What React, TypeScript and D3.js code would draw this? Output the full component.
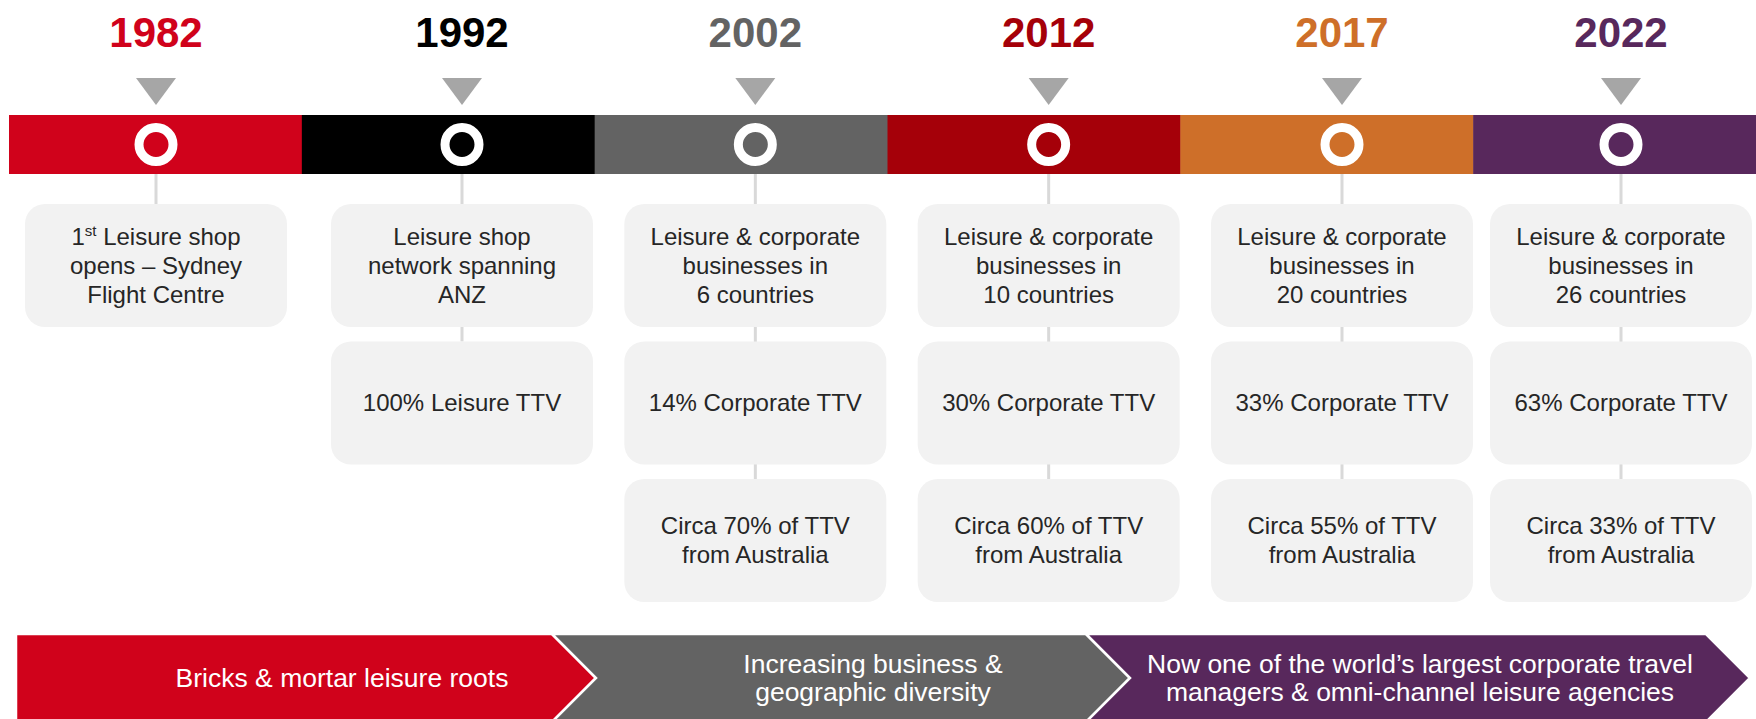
import React from "react";
import * as d3 from "d3";

// milestone years along the timeline
const years = ["1982", "1992", "2002", "2012", "2017", "2022"];
const yearColors = ["#d0021b", "#000000", "#636363", "#a50009", "#ce6f29", "#58285c"];

// first box text for the early years (no country count yet)
const earlyMilestones = [
  ["1st Leisure shop", "opens – Sydney", "Flight Centre"],
  ["Leisure shop", "network spanning", "ANZ"],
];
const countries = [null, null, 6, 10, 20, 26];
const corporateTtv = [null, 0, 14, 30, 33, 63];
const australiaTtv = [null, null, 70, 60, 55, 33];

// bottom chevrons
const phaseLabels = [
  ["Bricks & mortar leisure roots"],
  ["Increasing business &", "geographic diversity"],
  ["Now one of the world’s largest corporate travel", "managers & omni-channel leisure agencies"],
];
const phaseColors = ["#d0021b", "#636363", "#58285c"];

const W = 1756;
const H = 719;
const FONT = "'Liberation Sans', Arial, Helvetica, sans-serif";

function boxLines(i: number): string[][] {
  const rows: string[][] = [];
  if (countries[i] == null) rows.push(earlyMilestones[i]);
  else rows.push(["Leisure & corporate", "businesses in", `${countries[i]} countries`]);
  if (corporateTtv[i] != null) {
    rows.push([corporateTtv[i] === 0 ? "100% Leisure TTV" : `${corporateTtv[i]}% Corporate TTV`]);
  }
  if (australiaTtv[i] != null) {
    rows.push([`Circa ${australiaTtv[i]}% of TTV`, "from Australia"]);
  }
  return rows;
}

// renders "1st ..." with a superscript ordinal
function Line({ text, x, y }: { text: string; x: number; y: number }) {
  const m = text.match(/^(\d+)(st|nd|rd|th)(\s.*)$/);
  if (!m) {
    return (
      <text x={x} y={y} textAnchor="middle">
        {text}
      </text>
    );
  }
  return (
    <text x={x} y={y} textAnchor="middle">
      <tspan>{m[1]}</tspan>
      <tspan dy={-9} fontSize={15}>{m[2]}</tspan>
      <tspan dy={9}>{m[3]}</tspan>
    </text>
  );
}

export default function App() {
  // coloured band segments (last one runs off the right edge)
  const band = d3.scaleBand<string>().domain(years).range([9, 1766]);
  // column centres (markers and boxes)
  const colX = d3.scaleLinear().domain([0, 1, 4, 5]).range([156, 462, 1342, 1621]);

  const bandTop = 115;
  const bandH = 59;
  const circleY = bandTop + bandH / 2;
  const boxW = 262;
  const boxH = 123;
  const rowY = d3.scaleLinear().domain([0, 1]).range([204, 341.5]);
  const lineGap = 29;

  const tri = d3.line();

  // chevron row layout
  const chevTop = 634;
  const chevDepth = 44;
  const chevStops = [16, 552, 1086, 1706];
  const chevLabelX = [342, 873, 1420];
  const chevMid = chevTop + chevDepth;

  return (
    <div style={{ position: "fixed", left: 0, top: 0 }}>
      <svg width={W} height={H} style={{ display: "block", fontFamily: FONT }}>
        <rect width={W} height={H} fill="#ffffff" />

        {years.map((y, i) => {
          const cx = colX(i);
          return (
            <g key={y}>
              <text
                x={cx}
                y={47}
                textAnchor="middle"
                fontWeight="bold"
                fontSize={42}
                fill={yearColors[i]}
              >
                {y}
              </text>
              <path
                d={tri([[cx - 20, 78], [cx + 20, 78], [cx, 105]]) + "Z"}
                fill="#a6a6a6"
              />
              <rect
                x={band(y)!}
                y={bandTop}
                width={band.bandwidth() + 0.5}
                height={bandH}
                fill={yearColors[i]}
              />
            </g>
          );
        })}

        {years.map((y, i) => {
          const cx = colX(i);
          const rows = boxLines(i);
          return (
            <g key={"col" + y}>
              <line
                x1={cx}
                x2={cx}
                y1={bandTop + bandH}
                y2={rowY(rows.length - 1)}
                stroke="#d9d9d9"
                strokeWidth={3}
              />
              <circle cx={cx} cy={circleY} r={17} fill={yearColors[i]} stroke="#ffffff" strokeWidth={9} />
              {rows.map((lines, r) => {
                const top = rowY(r);
                const first = top + boxH / 2 + 8 - ((lines.length - 1) * lineGap) / 2;
                return (
                  <g key={r}>
                    <rect x={cx - boxW / 2} y={top} width={boxW} height={boxH} rx={20} fill="#f2f2f2" />
                    <g fontSize={24} fill="#262626">
                      {lines.map((t, k) => (
                        <Line key={k} text={t} x={cx} y={first + k * lineGap} />
                      ))}
                    </g>
                  </g>
                );
              })}
            </g>
          );
        })}

        {phaseLabels.map((lines, p) => {
          const x0 = chevStops[p];
          const x1 = chevStops[p + 1];
          const pts: [number, number][] = [
            [x0, chevTop],
            [x1, chevTop],
            [x1 + chevDepth, chevMid],
            [x1, chevMid + chevDepth],
            [x0, chevMid + chevDepth],
          ];
          if (p > 0) pts.push([x0 + chevDepth, chevMid]);
          const first = chevMid + 9 - ((lines.length - 1) * 28) / 2;
          return (
            <g key={"ph" + p}>
              <path d={tri(pts) + "Z"} fill={phaseColors[p]} stroke="#ffffff" strokeWidth={2.5} />
              {lines.map((t, k) => (
                <text
                  key={k}
                  x={chevLabelX[p]}
                  y={first + k * 28}
                  textAnchor="middle"
                  fontSize={26.5}
                  fill="#ffffff"
                >
                  {t}
                </text>
              ))}
            </g>
          );
        })}
      </svg>
    </div>
  );
}
